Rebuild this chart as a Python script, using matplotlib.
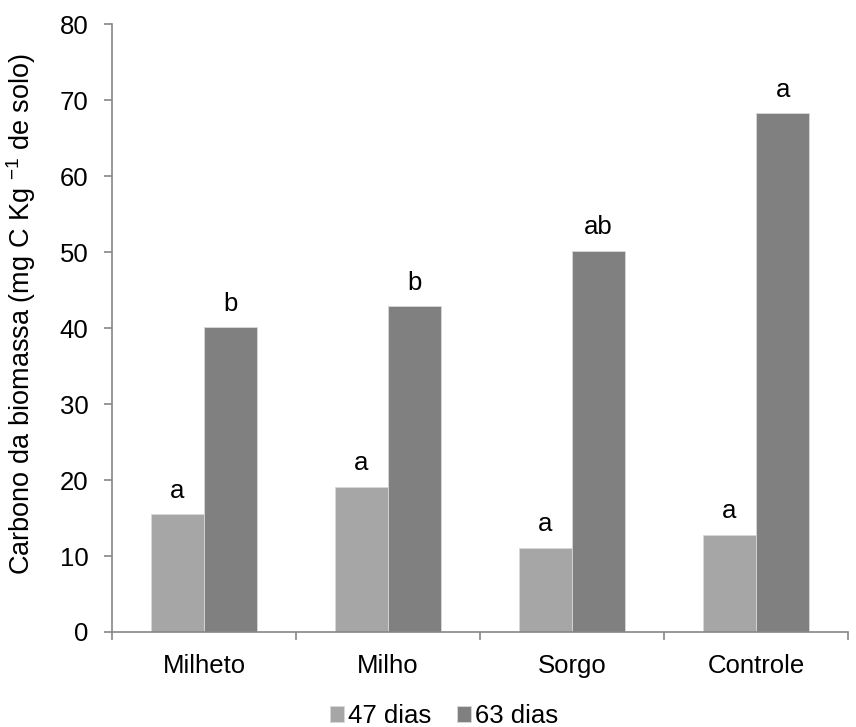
import matplotlib
matplotlib.use("Agg")
import matplotlib.pyplot as plt
import numpy as np

plt.rcParams['font.family'] = ['Liberation Sans', 'DejaVu Sans']
plt.rcParams['mathtext.fontset'] = 'custom'
plt.rcParams['mathtext.rm'] = 'Liberation Sans'
plt.rcParams['mathtext.it'] = 'Liberation Sans:italic'

categories = ["Milheto", "Milho", "Sorgo", "Controle"]
series_names = ["47 dias", "63 dias"]
d47 = [15.5, 19.1, 11.1, 12.8]
d63 = [40.1, 42.9, 50.2, 68.3]
letters47 = ["a", "a", "a", "a"]
letters63 = ["b", "b", "ab", "a"]

FS = 18.5

fig = plt.figure(figsize=(8.56, 7.27), dpi=100)
ax = fig.add_axes([0.1308, 0.1307, 0.8599, 0.8356])

x = np.arange(len(categories))
w = 0.29
c47 = "#A6A6A6"
c63 = "#808080"
b1 = ax.bar(x - w/2, d47, w, color=c47, edgecolor="#D9D9D9", linewidth=0.6, label=series_names[0])
b2 = ax.bar(x + w/2, d63, w, color=c63, edgecolor="#D9D9D9", linewidth=0.6, label=series_names[1])

for bars, labs in ((b1, letters47), (b2, letters63)):
    for r, t in zip(bars, labs):
        ax.annotate(t, (r.get_x() + r.get_width()/2, r.get_height()),
                    xytext=(0, 12), textcoords="offset points",
                    ha="center", va="baseline", fontsize=FS)

ax.set_xlim(-0.5, 3.5)
ax.set_ylim(0, 80)
ax.set_yticks(range(0, 81, 10))
ax.set_xticks(x)
ax.set_xticklabels(categories)
ax.set_xticks(np.arange(-0.5, 3.6, 1), minor=True)

for s in ("top", "right"):
    ax.spines[s].set_visible(False)
for s in ("left", "bottom"):
    ax.spines[s].set_color("#868686")
    ax.spines[s].set_linewidth(1.2)

ax.tick_params(axis="y", direction="out", length=6, width=1.2, color="#868686", labelsize=FS, pad=11)
ax.tick_params(axis="x", which="major", length=0, labelsize=FS, pad=16)
ax.tick_params(axis="x", which="minor", direction="out", length=6, width=1.2, color="#868686")

ax.set_ylabel(r"Carbono da biomassa (mg C Kg $^{-1}$ de solo)", fontsize=19.5)
ax.yaxis.set_label_coords(-0.1, 0.524)

leg = fig.legend(handles=[b1, b2], labels=series_names, loc="center", bbox_to_anchor=(0.519, 0.015),
                 ncol=2, frameon=False, fontsize=FS, handlelength=0.55, handleheight=0.55,
                 handletextpad=0.15, columnspacing=1.0, borderpad=0)

fig.savefig("out.png", dpi=100)
